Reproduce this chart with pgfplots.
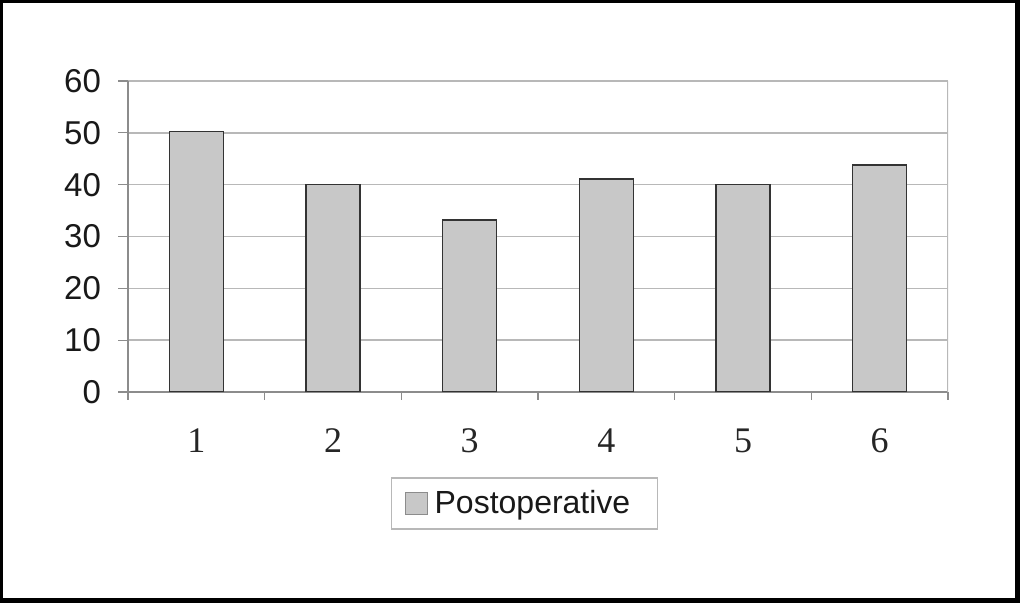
\documentclass[border=0pt]{standalone}
\usepackage{fontspec}
\setmainfont{Liberation Serif}
\newfontfamily\arial{Liberation Sans}
\usepackage{pgfplots}
\pgfplotsset{compat=1.18}
\definecolor{barfill}{HTML}{C8C8C8}
\definecolor{baredge}{HTML}{333333}
\definecolor{gridc}{HTML}{B8B8B8}
\definecolor{axisc}{HTML}{8C8C8C}
\begin{document}
\begin{tikzpicture}
\useasboundingbox (0,0) rectangle (510pt,301.5pt);
\fill[black] (0,0) rectangle (510pt,301.5pt);
\fill[white] (1.5pt,2.5pt) rectangle (507.5pt,300pt);
\begin{axis}[
  at={(64pt,105.5pt)}, anchor=south west,
  scale only axis, width=410pt, height=155.5pt,
  xmin=0.5, xmax=6.5, ymin=0, ymax=60,
  axis x line*=bottom, axis y line*=left,
  axis line style={-, draw=axisc, line width=0.8pt},
  xtick={1,2,3,4,5,6},
  xticklabels={1,2,3,4,5,6},
  minor xtick={0.5,1.5,...,6.5},
  ytick={0,10,...,60},
  tick align=outside,
  major tick length=5pt,
  minor tick length=4pt,
  xtick style={draw=none},
  minor x tick style={draw=axisc, line width=0.6pt},
  ytick style={draw=axisc, line width=0.6pt},
  ymajorgrids,
  major grid style={draw=gridc, line width=0.8pt},
  /pgf/number format/assume math mode=true,
  yticklabel style={font=\arial\fontsize{16.5}{18}\selectfont, text=black!90, xshift=-5pt},
  xticklabel style={font=\fontsize{18}{20}\selectfont, text=black!85, yshift=-10pt},
  legend style={at={(0.4835,-0.3585)}, anchor=center, draw=gridc, line width=0.8pt,
    font=\arial\fontsize{16}{18}\selectfont, text=black!90,
    inner xsep=11.5pt, inner ysep=4.25pt, legend cell align=left},
  legend image code/.code={\path[draw=none, fill=none] (0pt,-5.5pt) rectangle (11pt,5.5pt);
    \draw[#1, draw=axisc, overlay] (-4.5pt,-5.5pt) rectangle (6.5pt,5.5pt);},
]
\addplot[ybar, bar width=27pt, fill=barfill, draw=baredge, line width=0.75pt]
  coordinates {(1,50.3) (2,40.0) (3,33.2) (4,41.1) (5,40.0) (6,43.8)};
\addlegendentry{\hspace{-3pt}Postoperative\hspace{13.5pt}}
\draw[draw=gridc, line width=0.8pt] (rel axis cs:1,0) -- (rel axis cs:1,1);
\end{axis}
\end{tikzpicture}
\end{document}
